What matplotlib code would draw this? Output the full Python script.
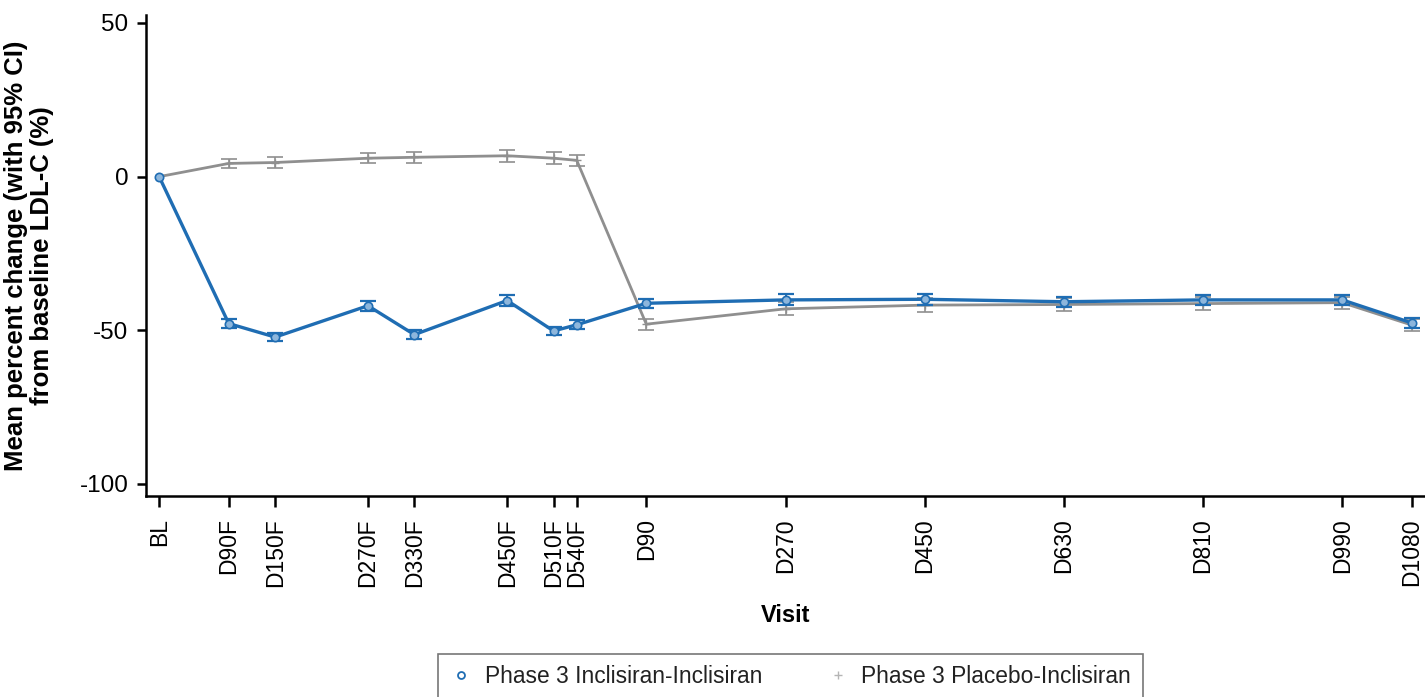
import matplotlib
matplotlib.use("Agg")
import matplotlib.pyplot as plt
from matplotlib.lines import Line2D

plt.rcParams['font.family'] = ['Liberation Sans', 'DejaVu Sans']
plt.rcParams['axes.unicode_minus'] = False

# Visits and their study-day positions on the x axis
visits = ["BL", "D90F", "D150F", "D270F", "D330F", "D450F", "D510F", "D540F",
          "D90", "D270", "D450", "D630", "D810", "D990", "D1080"]
visit_day = [0, 90, 150, 270, 330, 450, 510, 540,
             630, 810, 990, 1170, 1350, 1530, 1620]

# Mean percent change from baseline LDL-C and 95% CI half-widths
incl_mean = [0, -47.8, -52.2, -42.0, -51.4, -40.3, -50.2, -48.2,
             -41.2, -40.1, -39.9, -40.7, -40.1, -40.1, -47.6]
incl_ci = [0, 1.6, 1.4, 1.6, 1.5, 1.8, 1.4, 1.5,
           1.5, 1.8, 1.8, 1.6, 1.7, 1.6, 1.6]

plac_mean = [0, 4.3, 4.6, 6.0, 6.3, 6.8, 6.0, 5.3,
             -48.0, -43.0, -41.8, -41.6, -41.3, -41.0, -48.3]
plac_ci = [0, 1.6, 1.8, 1.7, 1.8, 1.9, 1.9, 1.9,
           1.8, 2.1, 2.4, 2.2, 2.2, 1.9, 1.9]

blue = "#1f6db3"
grey = "#8f8f8f"

fig = plt.figure(figsize=(14.25, 6.97), dpi=100)
ax = fig.add_axes([0.1022, 0.2884, 0.8978, 0.6901])

ax.errorbar(visit_day[1:], plac_mean[1:], yerr=plac_ci[1:], fmt="none",
            ecolor=grey, elinewidth=1.2, capsize=5.5, capthick=1.2, zorder=2)
ax.plot(visit_day, plac_mean, color=grey, lw=2.0, marker="+", ms=6,
        mec=grey, zorder=2)

ax.errorbar(visit_day[1:], incl_mean[1:], yerr=incl_ci[1:], fmt="none",
            ecolor=blue, elinewidth=1.4, capsize=5.5, capthick=1.6, zorder=3)
ax.plot(visit_day, incl_mean, color=blue, lw=2.4, marker="o", ms=6,
        mfc="#8db6dc", mec=blue, mew=1.2, zorder=4)

ax.set_xlim(-17.5, 1637)
ax.set_ylim(-103.9, 52.6)
ax.set_yticks([50, 0, -50, -100])
ax.set_xticks(visit_day)
ax.set_xticklabels(visits, rotation=90, va="top", ha="center")

for side in ("top", "right"):
    ax.spines[side].set_visible(False)
for side in ("left", "bottom"):
    ax.spines[side].set_linewidth(1.8)
    ax.spines[side].set_color("black")

ax.tick_params(axis="both", direction="out", width=1.8, colors="black")
ax.tick_params(axis="x", length=8, pad=8, labelsize=16.5)
ax.tick_params(axis="y", length=6.5, pad=6, labelsize=17.5)

ax.set_ylabel("Mean percent change (with 95% CI)\nfrom baseline LDL-C (%)",
              fontsize=18.5, fontweight="bold", linespacing=1.15, labelpad=18)
ax.set_xlabel("Visit", fontsize=17, fontweight="bold", labelpad=12)

handles = [
    Line2D([], [], ls="none", marker="o", ms=5, mfc="white", mec=blue, mew=1.3),
    Line2D([], [], ls="none", marker="+", ms=6, mec="#b5b5b5", mew=1.0),
]
labels = ["Phase 3 Inclisiran-Inclisiran", "Phase 3 Placebo-Inclisiran"]
leg = fig.legend(handles, labels, loc="upper center", ncol=2,
                 bbox_to_anchor=(0.5547, 0.0617), fontsize=16.4,
                 frameon=True, fancybox=False, edgecolor="#555555",
                 handlelength=1.0, handletextpad=0.55, columnspacing=2.8,
                 borderpad=0.5, borderaxespad=0)
leg.get_frame().set_linewidth(1.2)
for t in leg.get_texts():
    t.set_color("#222222")

fig.savefig("out.png", dpi=100)
